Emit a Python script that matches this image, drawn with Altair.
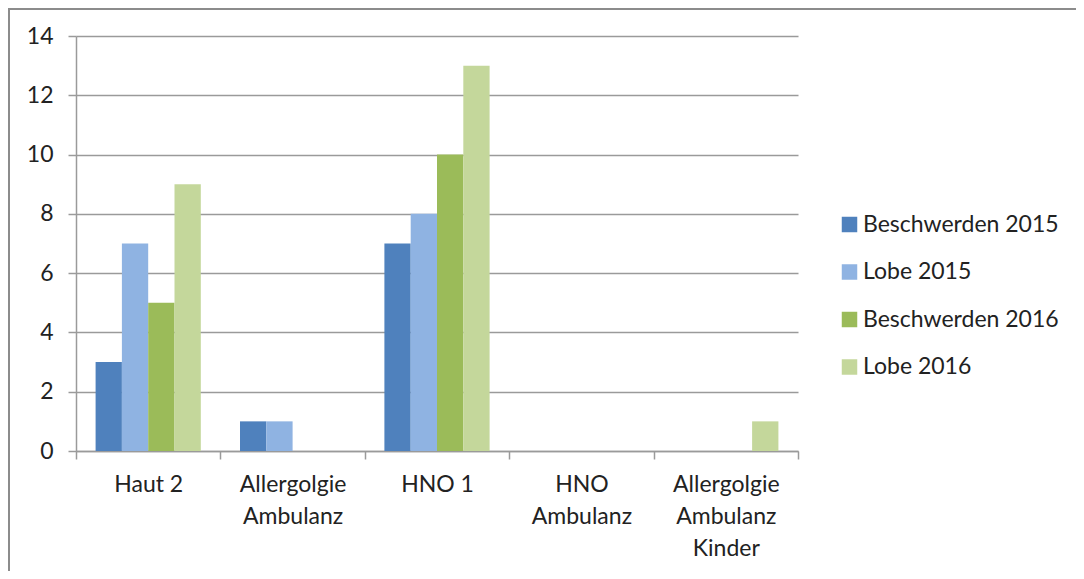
import altair as alt
import pandas as pd

categories = ["Haut 2", "Allergolgie|Ambulanz", "HNO 1", "HNO|Ambulanz", "Allergolgie|Ambulanz|Kinder"]
series = ["Beschwerden 2015", "Lobe 2015", "Beschwerden 2016", "Lobe 2016"]
colors = ["#4F81BD", "#8FB3E2", "#9BBB59", "#C4D79B"]
beschwerden_2015 = [3, 1, 7, 0, 0]
lobe_2015 = [7, 1, 8, 0, 0]
beschwerden_2016 = [5, 0, 10, 0, 0]
lobe_2016 = [9, 0, 13, 0, 1]
y_ticks = [0, 2, 4, 6, 8, 10, 12, 14]

rows = []
for s, vals in zip(series, [beschwerden_2015, lobe_2015, beschwerden_2016, lobe_2016]):
    for c, v in zip(categories, vals):
        rows.append({"Kategorie": c, "Serie": s, "Wert": v})
df = pd.DataFrame(rows)

FONT = "Lato"
FS = 23
GRID = "#9a9a9a"

bars = alt.Chart(df).mark_bar(stroke=None).encode(
    x=alt.X("Kategorie:N", sort=categories, title=None,
            scale=alt.Scale(paddingInner=0, paddingOuter=0),
            axis=alt.Axis(labelAngle=0, labelExpr="split(datum.label, '|')",
                          labelFont=FONT, labelFontSize=FS, labelColor="#222",
                          labelLineHeight=32, labelBaseline="top", labelPadding=14,
                          tickBand="extent", tickSize=8, tickColor=GRID, tickWidth=1.5,
                          domainColor=GRID, domainWidth=1.5, grid=False)),
    xOffset=alt.XOffset("Serie:N", sort=series,
                        scale=alt.Scale(paddingInner=0, paddingOuter=0.745)),
    y=alt.Y("Wert:Q", title=None,
            scale=alt.Scale(domain=[0, 14], nice=False),
            axis=alt.Axis(values=y_ticks, labelFont=FONT, labelFontSize=FS, labelColor="#222",
                          labelPadding=15, tickSize=8, tickColor=GRID, tickWidth=1.5,
                          domainColor=GRID, domainWidth=1.5,
                          grid=True, gridColor=GRID, gridWidth=1.5)),
    color=alt.Color("Serie:N", sort=series,
                    scale=alt.Scale(domain=series, range=colors),
                    legend=alt.Legend(title=None, orient="none", legendX=762, legendY=177,
                                      symbolType="square", symbolSize=240, symbolStrokeWidth=0,
                                      labelFont=FONT, labelFontSize=FS, labelColor="#222",
                                      labelLimit=400,
                                      labelOffset=2, rowPadding=23.5, padding=0)),
)

frame_top = alt.Chart(df).mark_rule(color="#8c8c8c", strokeWidth=2).encode(
    x=alt.value(-68), x2=alt.value(1000), y=alt.value(-27))
frame_left = alt.Chart(df).mark_rule(color="#8c8c8c", strokeWidth=2).encode(
    x=alt.value(-67), y=alt.value(-28), y2=alt.value(540))

chart = alt.layer(bars, frame_top, frame_left).properties(
    width=722, height=415,
    autosize=alt.AutoSizeParams(type="none"),
    padding={"left": 68, "top": 28, "right": 278, "bottom": 120},
    background="white",
).configure_view(stroke=None)

chart.save("out.html", embed_options={"renderer": "svg", "actions": False})
